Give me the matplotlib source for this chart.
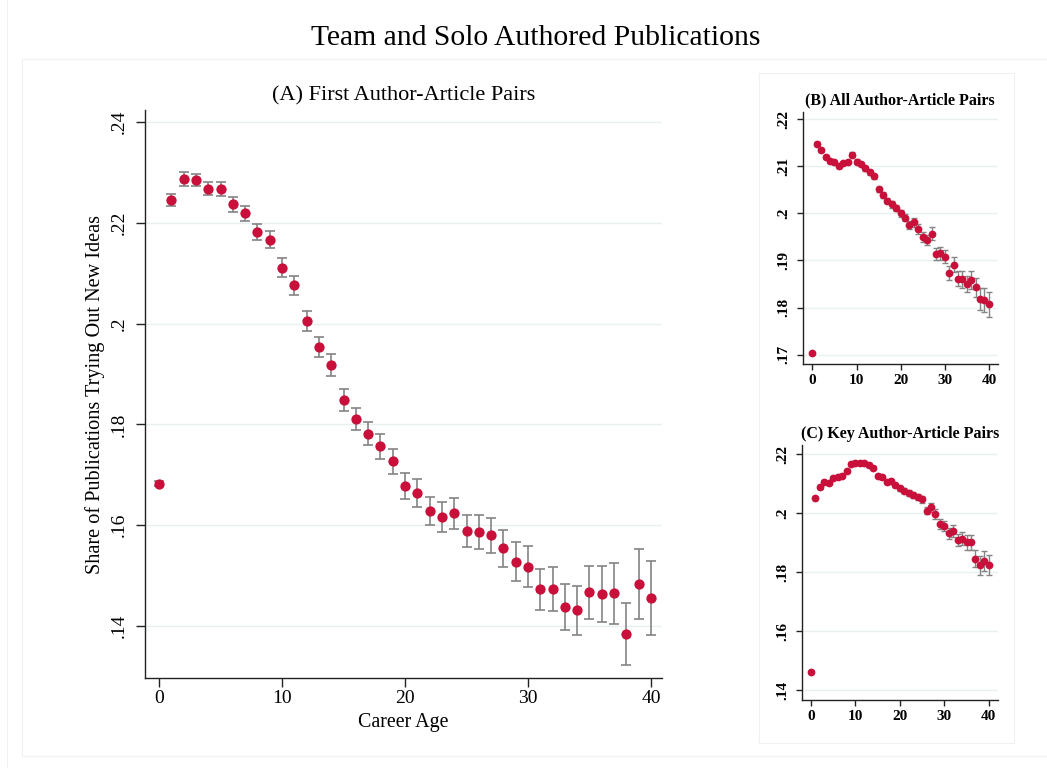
import numpy as np
import matplotlib
matplotlib.use("Agg")
import matplotlib.pyplot as plt
from matplotlib.patches import Rectangle

plt.rcParams['font.family'] = ['Liberation Serif', 'DejaVu Serif']

# career age 0..40
career_age = list(range(41))

# (A) first author-article pairs
first_share = [0.1682, 0.2246, 0.2287, 0.2285, 0.2268, 0.2268, 0.2237, 0.2219, 0.2182, 0.2167,
               0.2111, 0.2076, 0.2005, 0.1953, 0.1918, 0.1848, 0.1811, 0.1782, 0.1757, 0.1727,
               0.1678, 0.1664, 0.1628, 0.1616, 0.1624, 0.1589, 0.1587, 0.1580, 0.1554, 0.1528,
               0.1518, 0.1473, 0.1473, 0.1438, 0.1431, 0.1467, 0.1464, 0.1465, 0.1384, 0.1483,
               0.1456]
first_err = [0.0005, 0.0012, 0.0013, 0.0012, 0.0013, 0.0014, 0.0015, 0.0015, 0.0016, 0.0017,
             0.0019, 0.0019, 0.0020, 0.0020, 0.0021, 0.0022, 0.0022, 0.0023, 0.0025, 0.0025,
             0.0026, 0.0027, 0.0028, 0.0030, 0.0031, 0.0032, 0.0034, 0.0035, 0.0036, 0.0038,
             0.0040, 0.0041, 0.0044, 0.0046, 0.0049, 0.0052, 0.0055, 0.0060, 0.0062, 0.0069,
             0.0073]

# (B) all author-article pairs
all_share = [0.1704, 0.2147, 0.2135, 0.2119, 0.2112, 0.2109, 0.2101, 0.2106, 0.2110, 0.2125,
             0.2110, 0.2105, 0.2096, 0.2087, 0.2079, 0.2051, 0.2039, 0.2027, 0.2019, 0.2011,
             0.2000, 0.1991, 0.1975, 0.1981, 0.1967, 0.1950, 0.1943, 0.1957, 0.1914, 0.1915,
             0.1908, 0.1874, 0.1891, 0.1861, 0.1860, 0.1849, 0.1858, 0.1843, 0.1818, 0.1816,
             0.1807]
all_err = [0.0002, 0.0004, 0.0004, 0.0004, 0.0004, 0.0004, 0.0004, 0.0004, 0.0004, 0.0005,
           0.0005, 0.0005, 0.0005, 0.0005, 0.0005, 0.0006, 0.0006, 0.0006, 0.0007, 0.0007,
           0.0007, 0.0008, 0.0009, 0.0009, 0.0010, 0.0010, 0.0011, 0.0013, 0.0013, 0.0014,
           0.0014, 0.0015, 0.0016, 0.0016, 0.0018, 0.0017, 0.0019, 0.0020, 0.0023, 0.0025,
           0.0027]

# (C) key author-article pairs
key_share = [0.1460, 0.2052, 0.2089, 0.2107, 0.2102, 0.2121, 0.2124, 0.2127, 0.2144, 0.2168,
             0.2172, 0.2172, 0.2172, 0.2164, 0.2155, 0.2127, 0.2122, 0.2107, 0.2110, 0.2096,
             0.2085, 0.2077, 0.2068, 0.2062, 0.2056, 0.2047, 0.2009, 0.2020, 0.1997, 0.1963,
             0.1957, 0.1932, 0.1941, 0.1910, 0.1913, 0.1901, 0.1902, 0.1846, 0.1823, 0.1838,
             0.1824]
key_err = [0.0003, 0.0005, 0.0005, 0.0005, 0.0005, 0.0005, 0.0005, 0.0005, 0.0005, 0.0006,
           0.0006, 0.0006, 0.0006, 0.0006, 0.0006, 0.0007, 0.0007, 0.0007, 0.0008, 0.0008,
           0.0008, 0.0009, 0.0010, 0.0010, 0.0011, 0.0011, 0.0013, 0.0015, 0.0016, 0.0017,
           0.0018, 0.0019, 0.0020, 0.0021, 0.0022, 0.0024, 0.0025, 0.0028, 0.0031, 0.0033,
           0.0035]

x_ticks = [0, 10, 20, 30, 40]
x_labels = ["0", "10", "20", "30", "40"]
a_yticks = [0.14, 0.16, 0.18, 0.20, 0.22, 0.24]
a_ylabels = [".14", ".16", ".18", ".2", ".22", ".24"]
b_yticks = [0.17, 0.18, 0.19, 0.20, 0.21, 0.22]
b_ylabels = [".17", ".18", ".19", ".2", ".21", ".22"]
c_yticks = [0.14, 0.16, 0.18, 0.20, 0.22]
c_ylabels = [".14", ".16", ".18", ".2", ".22"]

W, H = 1047, 768
red = '#c8103a'
gray = '#848484'
grid_col = '#e8f0f1'
frame_col = '#eef2f2'

fig = plt.figure(figsize=(W / 100, H / 100), dpi=100)


def box(l, t, r, b):
    return [l / W, 1 - b / H, (r - l) / W, (b - t) / H]


def style(ax, yticks, ylabels, fs, tl, pad_x, pad_y, weight='normal'):
    for s in ['top', 'right']:
        ax.spines[s].set_visible(False)
    for s in ['left', 'bottom']:
        ax.spines[s].set_color('#222222')
        ax.spines[s].set_linewidth(1.0)
    ax.set_xticks(x_ticks)
    ax.set_xticklabels(x_labels, fontsize=fs, fontweight=weight)
    ax.set_yticks(yticks)
    ax.set_yticklabels(ylabels, fontsize=fs, fontweight=weight, rotation=90, va='center')
    ax.tick_params(axis='x', length=tl, width=1.0, color='#222222', pad=pad_x)
    ax.tick_params(axis='y', length=tl, width=1.0, color='#222222', pad=pad_y)
    ax.grid(axis='y', color=grid_col, linewidth=1.0)
    ax.set_axisbelow(True)


# frames
fig.add_artist(Rectangle((7 / W, -0.01), 1.1, 1.1, transform=fig.transFigure,
                         fill=False, ec=frame_col, lw=0.8))
fig.add_artist(Rectangle((22 / W, 1 - 756 / H), 1.1, (756 - 59) / H, transform=fig.transFigure,
                         fill=False, ec=frame_col, lw=0.8))
fig.add_artist(Rectangle((759 / W, 1 - 743 / H), (1014 - 759) / W, (743 - 72.7) / H,
                         transform=fig.transFigure, fill=False, ec=frame_col, lw=0.8))

fig.text(536 / W, 1 - 38 / H, "Team and Solo Authored Publications",
         ha='center', va='center', fontsize=21.3)

# panel A
axA = fig.add_axes(box(145, 110, 662, 678))
axA.errorbar(career_age, first_share, yerr=first_err, fmt='none', ecolor=gray,
             elinewidth=1.2, capsize=3.4, capthick=1.2, zorder=2)
axA.plot(career_age, first_share, 'o', color=red, markersize=7.4, markeredgewidth=0, zorder=3)
axA.set_xlim(-1.15, 40.9)
axA.set_ylim(0.1297, 0.2424)
style(axA, a_yticks, a_ylabels, 14, 6.3, 2.5, 6)
axA.set_title("(A) First Author-Article Pairs", fontsize=16, pad=7)
axA.set_xlabel("Career Age", fontsize=14.4, labelpad=4)
axA.set_ylabel("Share of Publications Trying Out New Ideas", fontsize=14.6, labelpad=4)

# panel B
axB = fig.add_axes(box(802.7, 111.7, 997.7, 364))
axB.errorbar(career_age, all_share, yerr=all_err, fmt='none', ecolor=gray,
             elinewidth=1.0, capsize=2.4, capthick=1.0, zorder=2)
axB.plot(career_age, all_share, 'o', color=red, markersize=5.6, markeredgewidth=0, zorder=3)
axB.set_xlim(-2.2, 42.0)
axB.set_ylim(0.168, 0.2216)
style(axB, b_yticks, b_ylabels, 11, 4.3, 3, 4.5, weight='bold')
axB.set_title("(B) All Author-Article Pairs", fontsize=11.5, fontweight='bold', pad=5)

# panel C
axC = fig.add_axes(box(801.7, 445, 997.7, 700))
axC.errorbar(career_age, key_share, yerr=key_err, fmt='none', ecolor=gray,
             elinewidth=1.0, capsize=2.4, capthick=1.0, zorder=2)
axC.plot(career_age, key_share, 'o', color=red, markersize=5.6, markeredgewidth=0, zorder=3)
axC.set_xlim(-2.1, 42.0)
axC.set_ylim(0.1366, 0.2232)
style(axC, c_yticks, c_ylabels, 11, 4.3, 3, 4.5, weight='bold')
axC.set_title("(C) Key Author-Article Pairs", fontsize=11.5, fontweight='bold', pad=5)

fig.savefig("out.png", dpi=100)
